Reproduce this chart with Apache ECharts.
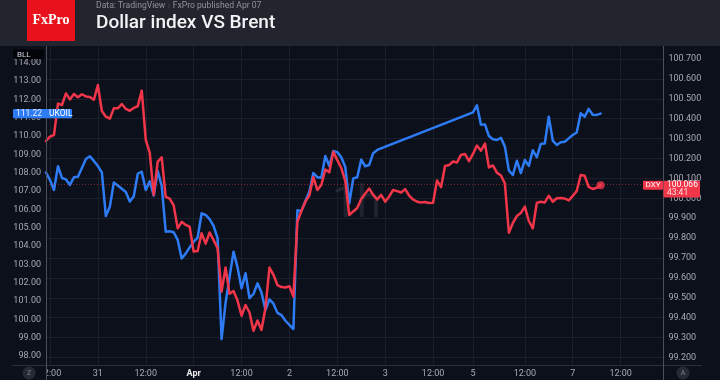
<!DOCTYPE html>
<html><head><meta charset="utf-8">
<script src="https://cdn.jsdelivr.net/npm/echarts@6/dist/echarts.min.js"></script>
<style>html,body{margin:0;padding:0;background:#0c101b;}#c{width:720px;height:380px;}</style>
</head><body><div id="c"></div>
<script>
// ---- data ----
const barCount = 156; // hourly bar slots on the time axis
const tickIndex = [1, 13, 25, 37, 49, 61, 73, 85, 97, 107, 120, 132, 144];
const tickLabels = ['12:00', '31', '12:00', 'Apr', '12:00', '2', '12:00', '3', '12:00', '5', '12:00', '7', '12:00'];

// DXY (right scale), hourly closes
const dxy = [
  100.288, 100.310, 100.318, 100.476, 100.469, 100.527, 100.497, 100.524, 100.508, 100.523,
  100.512, 100.509, 100.495, 100.569, 100.439, 100.410, 100.400, 100.452, 100.452, 100.474,
  100.449, 100.440, 100.454, 100.463, 100.541, 100.293, 100.228, 100.017, 100.184, 100.206,
  100.007, 99.998, 99.964, 99.849, 99.882, 99.866, 99.857, 99.732, 99.735, 99.824,
  99.772, 99.828, 99.790, 99.749, 99.531, 99.652, 99.520, 99.534, 99.486, 99.410,
  99.464, 99.426, 99.334, 99.386, 99.338, 99.449, 99.652, 99.615, 99.564, 99.554,
  99.552, 99.558, 99.506, 99.882, 99.936, 99.983, 100.014, 100.107, 100.042, 100.067,
  100.144, 100.131, 100.234, 100.192, 100.152, 100.087, 99.916, 99.934, 99.951, 99.996,
  100.024, 100.049, 100.017, 99.994, 100.017, 99.983, 100.009, 100.042, 100.036, 100.029,
  100.046, 100.014, 99.994, 99.983, 99.979, 99.981, 99.976, 99.978, 100.089, 100.056,
  100.162, 100.167, 100.185, 100.180, 100.218, 100.223, 100.187, 100.223, 100.265, 100.239,
  100.275, 100.155, 100.165, 100.129, 100.115, 100.074, 99.827, 99.876, 99.911, 99.926,
  99.958, 99.886, 99.849, 99.977, 99.983, 99.979, 100.013, 99.983, 100.000, 100.001,
  99.999, 99.989, 100.012, 100.037, 100.117, 100.113, 100.057, 100.047, 100.053, 100.066
];

// UKOIL (left scale): before the holiday gap, then after it
const ukoilBefore = [
  108.01, 107.60, 107.05, 108.35, 107.71, 107.63, 107.33, 107.75, 107.78, 108.25,
  108.74, 108.89, 108.64, 108.36, 108.01, 105.63, 106.14, 107.46, 107.30, 107.12,
  106.94, 106.42, 106.71, 107.94, 108.05, 107.05, 107.53, 106.75, 108.09, 107.28,
  104.78, 104.80, 104.75, 104.33, 103.32, 103.58, 103.92, 104.23, 104.46, 105.78,
  105.69, 105.47, 105.09, 104.43, 98.92, 100.89, 102.31, 103.69, 102.83, 101.69,
  102.51, 101.15, 101.38, 101.96, 101.46, 100.51, 101.09, 100.85, 100.35, 100.23,
  99.92, 99.69, 99.47, 105.95, 105.90, 106.45, 106.96, 107.98, 107.75, 107.72,
  108.91, 108.36, 109.18, 109.12, 108.84, 108.31, 106.33, 107.69, 107.75, 108.71,
  108.35, 108.42, 109.06, 109.24
];
const ukoilGapBars = 23;
const ukoilAfter = [
  111.29, 111.67, 110.62, 110.63, 110.00, 109.82, 109.78, 109.90, 109.42, 108.12,
  107.87, 108.65, 107.98, 108.69, 108.37, 109.22, 108.84, 109.57, 109.59, 111.05,
  109.75, 109.51, 109.66, 109.69, 109.87, 110.05, 110.19, 111.24, 111.05, 111.48,
  111.16, 111.15, 111.22
];

const dxyTicks = { min: 99.1, max: 100.8, step: 0.1 };
const oilTicks = { min: 97, max: 115, step: 1 };
const lastDxyLabel = '100.066';
const lastOilLabel = '111.22';
const countdown = '43:41';

// ---- build ----
const ukoil = ukoilBefore.concat(new Array(ukoilGapBars).fill(null), ukoilAfter);
const categories = Array.from({ length: barCount }, (_, i) => String(i));
const lastIdx = dxy.length - 1;

const BG = '#0c101b', GRID = '#1b1f2b', TXT = '#a7aab3';
const RED = '#f2364a', BLUE = '#2d7cf6';
const FONT = 'Roboto, "Noto Sans", sans-serif';

const chart = echarts.init(document.getElementById('c'), null, { renderer: 'canvas' });
const gridBase = { left: 46, right: 55.5, outerBoundsMode: 'none', containLabel: false };

chart.setOption({
  animation: false,
  backgroundColor: BG,
  textStyle: { fontFamily: FONT },
  grid: [
    Object.assign({ top: 39.1, height: 338.3 }, gridBase),
    Object.assign({ top: 44.34, height: 329.94 }, gridBase),
    Object.assign({ top: 45, height: 320 }, gridBase)
  ],
  xAxis: [
    { type: 'category', gridIndex: 0, data: categories, boundaryGap: false, show: false },
    { type: 'category', gridIndex: 1, data: categories, boundaryGap: false, show: false },
    {
      type: 'category', gridIndex: 2, data: categories, boundaryGap: false,
      axisLine: { show: false }, axisTick: { show: false },
      axisLabel: {
        interval: (i) => tickIndex.indexOf(i) >= 0,
        formatter: (v, i) => {
          const k = tickIndex.indexOf(Number(v));
          if (k < 0) return '';
          const t = tickLabels[k];
          return t === 'Apr' ? '{b|' + t + '}' : t;
        },
        color: TXT, fontSize: 9, margin: 4, fontFamily: FONT,
        rich: { b: { fontWeight: 'bold', color: '#e8e9ec', fontSize: 9, fontFamily: FONT } }
      },
      splitLine: { show: true, interval: (i) => tickIndex.indexOf(i) >= 0, lineStyle: { color: GRID, width: 1 } }
    }
  ],
  yAxis: [
    {
      type: 'value', gridIndex: 0, position: 'right',
      min: dxyTicks.min, max: dxyTicks.max, interval: dxyTicks.step,
      axisLine: { show: false }, axisTick: { show: false },
      axisLabel: { color: TXT, fontSize: 9, margin: 4, showMinLabel: false, showMaxLabel: false,
        formatter: (v) => v.toFixed(3), fontFamily: FONT },
      splitLine: { show: true, showMinLine: false, showMaxLine: false, lineStyle: { color: GRID, width: 1 } }
    },
    {
      type: 'value', gridIndex: 1, position: 'left',
      min: oilTicks.min, max: oilTicks.max, interval: oilTicks.step,
      axisLine: { show: false }, axisTick: { show: false },
      axisLabel: { color: TXT, fontSize: 9, margin: 5, showMinLabel: false, showMaxLabel: false,
        formatter: (v) => v.toFixed(2), fontFamily: FONT },
      splitLine: { show: false }
    },
    { type: 'value', gridIndex: 2, min: 0, max: 1, show: false }
  ],
  series: [
    {
      name: 'UKOIL', type: 'line', xAxisIndex: 1, yAxisIndex: 1, data: ukoil,
      showSymbol: false, connectNulls: true, z: 3,
      lineStyle: { color: BLUE, width: 2.5, join: 'round', cap: 'round' }
    },
    {
      name: 'DXY', type: 'line', xAxisIndex: 0, yAxisIndex: 0, data: dxy,
      showSymbol: false, z: 4,
      lineStyle: { color: RED, width: 2.5, join: 'round', cap: 'round' },
      markLine: {
        silent: true, symbol: 'none', label: { show: false },
        lineStyle: { color: 'rgba(242,54,74,0.5)', type: [1, 2], width: 1 },
        data: [{ yAxis: dxy[lastIdx] }]
      }
    },
    {
      name: 'DXY last', type: 'scatter', xAxisIndex: 0, yAxisIndex: 0,
      data: [[lastIdx, dxy[lastIdx]]], symbolSize: 8, z: 5,
      itemStyle: { color: RED }
    }
  ]
});

// ---- overlays (frame, header, price tags) ----
const yDxy = chart.convertToPixel({ yAxisIndex: 0 }, dxy[lastIdx]);
const yOil = chart.convertToPixel({ yAxisIndex: 1 }, ukoil[ukoil.length - 1]);

function txt(text, x, y, font, fill, align, valign, z) {
  return { type: 'text', z: z || 120, silent: true,
    style: { text, x, y, font, fill, align: align || 'left', textAlign: align || 'left',
      verticalAlign: valign || 'middle', textVerticalAlign: valign || 'middle' } };
}

chart.setOption({
  graphic: [
    // watermark
    txt('1h', 332, 206, '44px ' + FONT, 'rgba(150,155,170,0.14)', 'left', 'middle', 1),
    // header
    { type: 'rect', z: 100, silent: true, shape: { x: 0, y: 0, width: 720, height: 46 }, style: { fill: '#22252e' } },
    { type: 'rect', z: 101, silent: true, shape: { x: 27, y: 0, width: 48, height: 41 }, style: { fill: '#e8121c' } },
    txt('FxPro', 51, 20, 'bold 14px "Liberation Serif", "DejaVu Serif", serif', '#ffffff', 'center', 'middle', 102),
    {
      type: 'text', z: 102, silent: true,
      style: {
        text: '{a|Data: TradingView}{s|  |  }{a|FxPro published Apr 07}',
        x: 96, y: 6, align: 'left', textAlign: 'left', verticalAlign: 'middle', textVerticalAlign: 'middle',
        rich: {
          a: { fontSize: 8.6, fontFamily: FONT, fill: '#8f929b', color: '#8f929b' },
          s: { fontSize: 6, fontFamily: FONT, fill: '#5b5e68', color: '#5b5e68' }
        }
      }
    },
    txt('Dollar index VS Brent', 96, 23, '500 19px ' + FONT, '#f2f3f5', 'left', 'middle', 102),
    // bottom strip cover on the left price scale (clips first time label)
    { type: 'rect', z: 110, silent: true, shape: { x: 0, y: 366, width: 46, height: 14 }, style: { fill: BG } },
    // frame lines
    { type: 'line', z: 115, silent: true, shape: { x1: 12, y1: 365.5, x2: 702, y2: 365.5 }, style: { stroke: '#2c303b', lineWidth: 1 } },
    { type: 'line', z: 116, silent: true, shape: { x1: 46.5, y1: 46, x2: 46.5, y2: 380 }, style: { stroke: '#4b4f5b', lineWidth: 1 } },
    { type: 'line', z: 116, silent: true, shape: { x1: 663.5, y1: 46, x2: 663.5, y2: 380 }, style: { stroke: '#4b4f5b', lineWidth: 1 } },
    // Z / A buttons
    { type: 'circle', z: 117, silent: true, shape: { cx: 29, cy: 373, r: 6.5 }, style: { fill: '#262a35' } },
    txt('Z', 29, 373.5, '7px ' + FONT, '#7c808b', 'center', 'middle', 118),
    { type: 'circle', z: 117, silent: true, shape: { cx: 683, cy: 373, r: 6.5 }, style: { fill: '#262a35' } },
    txt('A', 683, 373.5, '7px ' + FONT, '#7c808b', 'center', 'middle', 118),
    // BLL box
    { type: 'rect', z: 117, silent: true, shape: { x: 13, y: 49.5, width: 31, height: 9.5, r: 2 }, style: { fill: '#02040a' } },
    txt('BLL', 17, 54.5, '8px ' + FONT, '#d1d4dc', 'left', 'middle', 118),
    // UKOIL tag
    { type: 'rect', z: 117, silent: true, shape: { x: 13, y: yOil - 4.7, width: 59, height: 9.4, r: 1 }, style: { fill: BLUE } },
    txt(lastOilLabel, 16, yOil + 0.3, '8.5px ' + FONT, '#e8efff', 'left', 'middle', 118),
    txt('UKOIL', 49, yOil + 0.3, '8.5px ' + FONT, '#ffffff', 'left', 'middle', 118),
    // DXY tag
    { type: 'rect', z: 117, silent: true, shape: { x: 643, y: yDxy - 4.3, width: 20, height: 8.8, r: 1 }, style: { fill: RED } },
    txt('DXY', 653, yDxy + 0.2, '8px ' + FONT, '#ffffff', 'center', 'middle', 118),
    { type: 'rect', z: 117, silent: true, shape: { x: 663.5, y: yDxy - 4.3, width: 36.5, height: 16.6, r: 1 }, style: { fill: RED } },
    txt(lastDxyLabel, 667, yDxy + 0.2, '8.5px ' + FONT, '#ffffff', 'left', 'middle', 118),
    txt(countdown, 667, yDxy + 8.2, '8.5px ' + FONT, '#ffd9dc', 'left', 'middle', 118)
  ]
});
</script>
</body></html>
